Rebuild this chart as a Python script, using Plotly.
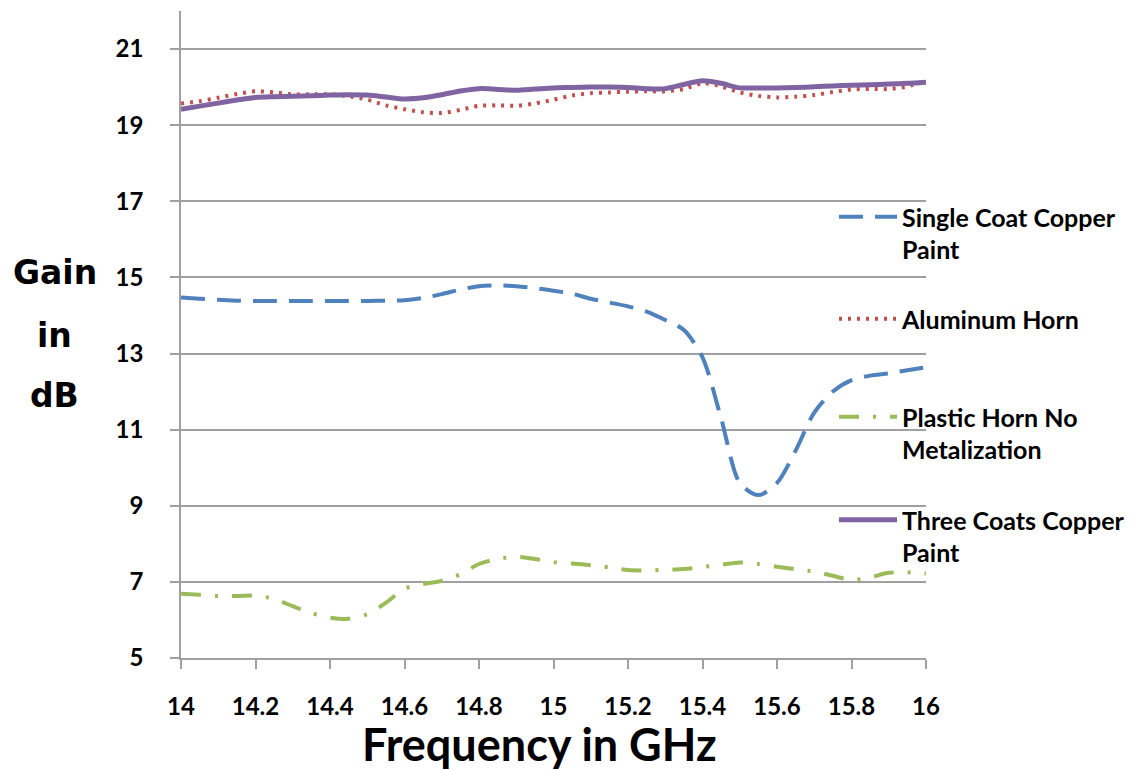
import plotly.graph_objects as go

# Frequency sweep (GHz)
freq = [14.00, 14.05, 14.10, 14.15, 14.20, 14.25, 14.30, 14.35, 14.40, 14.45,
        14.50, 14.55, 14.60, 14.65, 14.70, 14.75, 14.80, 14.85, 14.90, 14.95,
        15.00, 15.05, 15.10, 15.15, 15.20, 15.25, 15.30, 15.35, 15.40, 15.45,
        15.50, 15.55, 15.60, 15.65, 15.70, 15.75, 15.80, 15.85, 15.90, 15.95,
        16.00]

# Measured gain (dB)
single_coat = [14.47, 14.44, 14.41, 14.39, 14.38, 14.38, 14.38, 14.38, 14.38, 14.38,
               14.38, 14.39, 14.40, 14.46, 14.56, 14.68, 14.77, 14.79, 14.77, 14.72,
               14.65, 14.57, 14.44, 14.34, 14.24, 14.10, 13.88, 13.62, 12.90, 11.30,
               9.60, 9.28, 9.60, 10.45, 11.45, 12.00, 12.30, 12.42, 12.48, 12.56,
               12.64]
aluminum = [19.57, 19.63, 19.72, 19.82, 19.89, 19.86, 19.81, 19.81, 19.81, 19.76,
            19.67, 19.52, 19.42, 19.34, 19.32, 19.40, 19.51, 19.52, 19.51, 19.57,
            19.67, 19.78, 19.84, 19.86, 19.88, 19.89, 19.89, 19.95, 20.10, 20.02,
            19.86, 19.77, 19.73, 19.75, 19.79, 19.87, 19.94, 19.95, 19.95, 20.02,
            20.18]
plastic = [6.69, 6.66, 6.63, 6.63, 6.64, 6.55, 6.36, 6.18, 6.06, 6.03,
           6.15, 6.45, 6.82, 6.94, 7.03, 7.20, 7.47, 7.60, 7.66, 7.60,
           7.52, 7.48, 7.44, 7.38, 7.31, 7.30, 7.32, 7.34, 7.39, 7.45,
           7.51, 7.47, 7.40, 7.33, 7.27, 7.16, 7.05, 7.12, 7.24, 7.25,
           7.22]
three_coats = [19.42, 19.50, 19.58, 19.66, 19.73, 19.75, 19.76, 19.77, 19.79, 19.80,
               19.79, 19.74, 19.69, 19.72, 19.80, 19.90, 19.96, 19.94, 19.92, 19.95,
               19.98, 19.99, 20.00, 20.00, 19.99, 19.96, 19.96, 20.07, 20.17, 20.10,
               19.98, 19.98, 19.98, 19.99, 20.01, 20.03, 20.05, 20.06, 20.08, 20.10,
               20.13]

series_names = ["Single Coat Copper<br>Paint", "Aluminum Horn",
                "Plastic Horn No<br>Metalization", "Three Coats Copper<br>Paint"]

x_ticks = [14, 14.2, 14.4, 14.6, 14.8, 15, 15.2, 15.4, 15.6, 15.8, 16]
y_ticks = [5, 7, 9, 11, 13, 15, 17, 19, 21]

W, H = 1133, 770
L, R, T, B = 181, 207, 11, 112
plot_w, plot_h = W - L - R, H - T - B


def px_x(px):
    return (px - L) / plot_w


def px_y(py):
    return (H - B - py) / plot_h


label_font = dict(family="Lato", size=25, color="black", weight="bold")
tick_font = dict(family="Lato", size=24, color="black", weight="bold")
title_font = dict(family="DejaVu Sans", size=33, color="black", weight="bold")

styles = [
    dict(color="#4F81BD", width=4, dash="24px,12px"),
    dict(color="#C0504D", width=4, dash="3px,6px"),
    dict(color="#9BBB59", width=4, dash="20px,14px,3px,14px"),
    dict(color="#8064A2", width=5, dash="solid"),
]
series = [single_coat, aluminum, plastic, three_coats]
legend_ids = ["legend", "legend2", "legend3", "legend4"]
legend_tops = [194, 296, 394, 497]

fig = go.Figure()
for name, vals, st, lg in zip(series_names, series, styles, legend_ids):
    fig.add_trace(go.Scatter(
        x=freq, y=vals, name=name, mode="lines",
        line=dict(shape="spline", smoothing=0.8, **st),
        legend=lg,
    ))

legend_layout = {}
for lg, top in zip(legend_ids, legend_tops):
    legend_layout[lg] = dict(
        x=px_x(834), y=px_y(top), xanchor="left", yanchor="top",
        bgcolor="rgba(0,0,0,0)", borderwidth=0, font=label_font,
        valign="top", itemwidth=58,
    )

grid_col = "#a0a0a0"
fig.update_layout(
    width=W, height=H,
    margin=dict(l=L, r=R, t=T, b=B, autoexpand=False),
    paper_bgcolor="white", plot_bgcolor="white",
    showlegend=True,
    xaxis=dict(
        range=[14, 16], tickvals=x_ticks, ticktext=[f"{v:g}" for v in x_ticks],
        showgrid=False, zeroline=False,
        showline=True, linecolor=grid_col, linewidth=1.5,
        ticks="outside", ticklen=9, tickcolor=grid_col, tickwidth=1.5,
        tickfont=tick_font, ticklabelstandoff=17,
    ),
    yaxis=dict(
        range=[5, 22], tickvals=y_ticks, ticktext=[str(v) for v in y_ticks],
        showgrid=True, gridcolor=grid_col, gridwidth=1.5, zeroline=False,
        showline=True, linecolor=grid_col, linewidth=1.5,
        ticks="outside", ticklen=9, tickcolor=grid_col, tickwidth=1.5,
        tickfont=tick_font, ticklabelstandoff=22,
    ),
    annotations=[
        dict(text="Frequency in GHz", x=px_x(539), y=px_y(744), xref="paper", yref="paper",
             showarrow=False, xanchor="center", yanchor="middle",
             font=dict(family="Lato", size=45, color="black", weight="bold")),
        dict(text="Gain", x=px_x(55), y=px_y(272), xref="paper", yref="paper",
             showarrow=False, xanchor="center", yanchor="middle", font=title_font),
        dict(text="in", x=px_x(55), y=px_y(335), xref="paper", yref="paper",
             showarrow=False, xanchor="center", yanchor="middle", font=title_font),
        dict(text="dB", x=px_x(55), y=px_y(395), xref="paper", yref="paper",
             showarrow=False, xanchor="center", yanchor="middle", font=title_font),
    ],
    **legend_layout,
)

fig.write_html("out.html")
